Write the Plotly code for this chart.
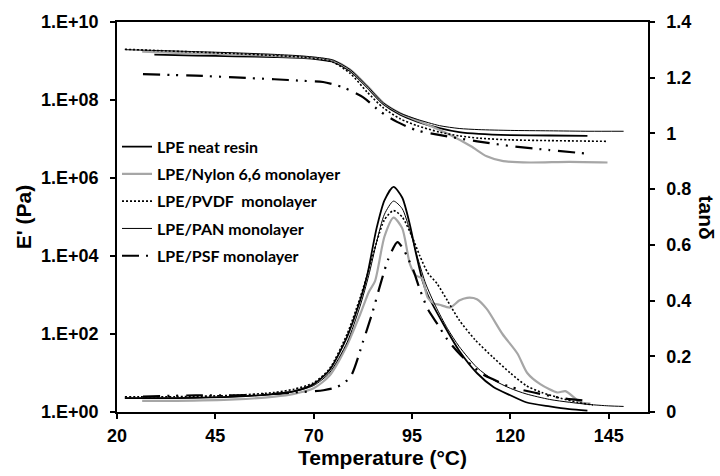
import plotly.graph_objects as go

# ---------------- data ----------------
# Storage modulus E' (Pa) vs temperature (°C)
T_E_neat = [29.5, 40, 50, 60, 66.6, 72, 75, 79.3, 83.6, 87.7, 92, 96.3, 102, 107, 112, 120, 130, 139.6]
E_neat = [1.45e9, 1.38e9, 1.32e9, 1.26e9, 1.2e9, 1.07e9, 9.5e8, 5.5e8, 2.1e8, 7.9e7, 4.2e7, 2.8e7,
          1.9e7, 1.5e7, 1.35e7, 1.26e7, 1.23e7, 1.2e7]

T_E_nylon = [26.4, 35, 45, 55, 65, 72, 75, 79.3, 83.6, 87.7, 92, 96.3, 100, 104, 110, 114, 118.2, 125, 135, 144.7]
E_nylon = [1.74e9, 1.62e9, 1.51e9, 1.41e9, 1.29e9, 1.15e9, 1.02e9, 6.0e8, 2.3e8, 8.5e7, 4.6e7, 3.0e7,
           2.1e7, 1.38e7, 6.5e6, 3.6e6, 2.7e6, 2.5e6, 2.6e6, 2.5e6]

T_E_pvdf = [22, 30, 40, 50, 60, 67, 72, 75, 79.3, 83.6, 87.7, 92, 96.3, 102, 107, 112, 120, 130, 144.7]
E_pvdf = [2.0e9, 1.86e9, 1.7e9, 1.55e9, 1.38e9, 1.26e9, 1.1e9, 9.3e8, 4.8e8, 1.6e8, 6.3e7, 3.3e7,
          2.2e7, 1.5e7, 1.2e7, 1.05e7, 9.5e6, 9.1e6, 8.7e6]

T_E_pan = [22, 30, 40, 50, 60, 67, 72, 75, 79.3, 83.6, 87.7, 92, 96.3, 102, 107, 112, 120, 130, 140, 148.8]
E_pan = [1.95e9, 1.86e9, 1.74e9, 1.62e9, 1.48e9, 1.35e9, 1.2e9, 1.05e9, 6.0e8, 2.3e8, 8.5e7, 4.6e7,
         3.2e7, 2.2e7, 1.86e7, 1.74e7, 1.66e7, 1.62e7, 1.58e7, 1.58e7]

T_E_psf = [26.6, 40, 50, 60, 67.4, 72.4, 77.5, 82.6, 87, 91.2, 96.3, 102.2, 111.6, 120, 130, 139.6]
E_psf = [4.6e8, 4.2e8, 3.8e8, 3.4e8, 3.1e8, 2.9e8, 2.1e8, 1.17e8, 5.0e7, 2.75e7, 1.66e7, 1.26e7,
         8.7e6, 6.6e6, 5.2e6, 4.2e6]

# Loss factor tan(delta) vs temperature (°C)
T_t_neat = [22, 35, 50, 60, 65, 70, 74, 78.5, 81.8, 83.6, 86, 88, 90.3, 92.5, 94.5, 96, 97.7, 99,
            103, 107, 111.5, 115.7, 120, 124, 130, 135, 139.6]
t_neat = [0.05, 0.05, 0.055, 0.065, 0.075, 0.10, 0.15, 0.27, 0.40, 0.49, 0.66, 0.76, 0.808, 0.77,
          0.67, 0.57, 0.47, 0.42, 0.315, 0.22, 0.14, 0.09, 0.06, 0.035, 0.02, 0.01, 0.005]

T_t_nylon = [26.4, 35, 50, 60, 65, 70, 74, 78.5, 81.8, 84, 85.6, 88, 90.3, 92.5, 94.5, 96, 97.5, 99,
             100.5, 102, 104.7, 107, 109, 111.5, 114, 118, 121.8, 124.3, 127.6, 132, 134, 137.8, 140.4]
t_nylon = [0.04, 0.04, 0.045, 0.055, 0.065, 0.085, 0.13, 0.24, 0.35, 0.43, 0.47, 0.63, 0.698, 0.66,
           0.53, 0.49, 0.48, 0.41, 0.39, 0.385, 0.375, 0.40, 0.41, 0.405, 0.37, 0.28, 0.21, 0.14,
           0.10, 0.07, 0.075, 0.035, 0.03]

T_t_pvdf = [22, 35, 50, 60, 65, 70, 74, 78.5, 81.8, 84, 86, 88, 90.3, 92.5, 95, 97, 99, 101.4, 104,
            107, 111, 115.7, 120, 124, 128, 132.7, 137, 141]
t_pvdf = [0.055, 0.055, 0.06, 0.07, 0.082, 0.105, 0.155, 0.28, 0.41, 0.51, 0.61, 0.69, 0.723, 0.70,
          0.63, 0.56, 0.50, 0.46, 0.40, 0.33, 0.26, 0.195, 0.14, 0.095, 0.07, 0.05, 0.035, 0.025]

T_t_pan = [22, 35, 50, 60, 65, 70, 74, 78.5, 81.8, 84, 86, 88, 90.3, 92.5, 94.5, 96.5, 98.5, 101,
           104, 107, 111.5, 115.7, 120, 124, 130, 135, 140, 145, 148.8]
t_pan = [0.05, 0.05, 0.055, 0.063, 0.073, 0.095, 0.14, 0.25, 0.38, 0.49, 0.61, 0.71, 0.757, 0.73,
         0.65, 0.55, 0.46, 0.38, 0.30, 0.235, 0.16, 0.115, 0.085, 0.065, 0.045, 0.035, 0.027, 0.022, 0.02]

T_t_psf = [26.6, 40, 50, 60, 65, 72.5, 76, 79.3, 82.6, 85, 87, 89, 91.3, 92.8, 93.7, 95.3, 97, 99,
           101.5, 104, 107, 110, 113, 116, 120, 126, 133, 139.6]
t_psf = [0.055, 0.06, 0.06, 0.065, 0.07, 0.078, 0.09, 0.125, 0.255, 0.36, 0.46, 0.55, 0.61, 0.585,
         0.56, 0.51, 0.44, 0.37, 0.315, 0.26, 0.21, 0.17, 0.135, 0.115, 0.09, 0.07, 0.05, 0.04]

x_ticks = [20, 45, 70, 95, 120, 145]
E_tickvals = [1e0, 1e2, 1e4, 1e6, 1e8, 1e10]
E_ticktext = ["1.E+00", "1.E+02", "1.E+04", "1.E+06", "1.E+08", "1.E+10"]

names = ["LPE neat resin", "LPE/Nylon 6,6 monolayer", "LPE/PVDF  monolayer",
         "LPE/PAN monolayer", "LPE/PSF monolayer"]

# ---------------- styles ----------------
styles = [
    dict(color="black", width=1.8, dash="solid"),
    dict(color="#a6a6a6", width=2.2, dash="solid"),
    dict(color="black", width=1.6, dash="2px,2px"),
    dict(color="black", width=1.0, dash="solid"),
    dict(color="black", width=2.2, dash="17px,7px,2px,7px,2px,8px"),
]

E_sets = [(T_E_neat, E_neat), (T_E_nylon, E_nylon), (T_E_pvdf, E_pvdf), (T_E_pan, E_pan), (T_E_psf, E_psf)]
t_sets = [(T_t_neat, t_neat), (T_t_nylon, t_nylon), (T_t_pvdf, t_pvdf), (T_t_pan, t_pan), (T_t_psf, t_psf)]

fig = go.Figure()
for i, (nm, st, (tx, ty)) in enumerate(zip(names, styles, t_sets)):
    fig.add_trace(go.Scatter(x=tx, y=ty, mode="lines", line=dict(shape="spline", smoothing=0.7, **st),
                             yaxis="y2", showlegend=False, legendgroup=f"g{i}", hoverinfo="skip"))
for i, (nm, st, (ex, ey)) in enumerate(zip(names, styles, E_sets)):
    fig.add_trace(go.Scatter(x=ex, y=ey, mode="lines", name=nm,
                             line=dict(shape="spline", smoothing=0.7, **st),
                             yaxis="y", legendgroup=f"g{i}"))

tickfont = dict(family="Liberation Sans", size=18, color="black", weight="bold")
titlefont = dict(family="Liberation Sans", size=21, color="black", weight="bold")

fig.update_layout(
    width=720, height=476,
    margin=dict(l=117, r=72, t=17, b=64),
    paper_bgcolor="white", plot_bgcolor="white",
    xaxis=dict(range=[20, 155], tickvals=x_ticks, ticks="outside", ticklen=5, tickwidth=1.5,
               tickcolor="black", showline=True, linecolor="black", linewidth=1.5, mirror=True,
               showgrid=False, zeroline=False, tickfont=tickfont, ticklabelstandoff=2,
               title=dict(text="Temperature (°C)", font=titlefont, standoff=2)),
    yaxis=dict(type="log", range=[0, 10], tickvals=E_tickvals, ticktext=E_ticktext,
               ticks="outside", ticklen=5, tickwidth=1.5, tickcolor="black", showline=True,
               linecolor="black", linewidth=1.5, showgrid=False, zeroline=False, tickfont=tickfont,
               ticklabelstandoff=8,
               title=dict(text="E' (Pa)", font=titlefont, standoff=4)),
    yaxis2=dict(range=[0, 1.4], dtick=0.2, overlaying="y", side="right", ticks="outside", ticklen=5,
                tickwidth=1.5, tickcolor="black", showline=True, linecolor="black", linewidth=1.5,
                showgrid=False, zeroline=False, tickfont=tickfont, ticklabelstandoff=8),
    legend=dict(x=0.0, y=0.724, xanchor="left", yanchor="top", bgcolor="rgba(0,0,0,0)",
                font=dict(family="Lato", size=16, color="black", weight="bold"),
                itemwidth=30, tracegroupgap=3.5, traceorder="grouped"),
    annotations=[dict(text="tanδ", x=(707 - 117) / 531, y=(412 - 215) / 395, xref="paper",
                      yref="paper", xanchor="center", yanchor="middle", showarrow=False,
                      textangle=90, font=titlefont)],
)

fig.write_html("out.html")
